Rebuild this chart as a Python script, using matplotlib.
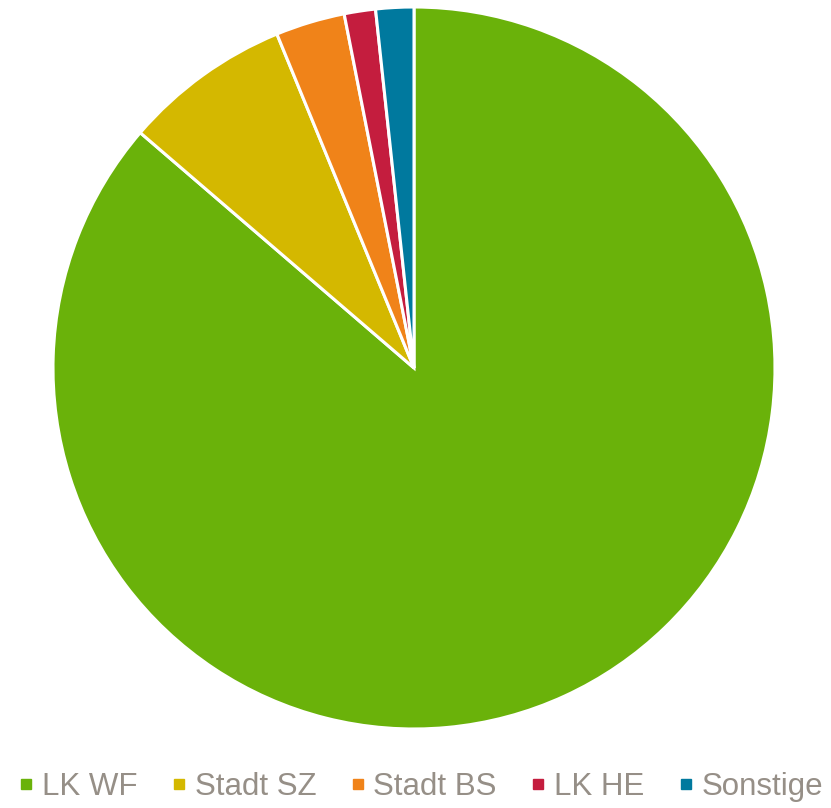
import matplotlib
matplotlib.use("Agg")
import matplotlib.pyplot as plt
from matplotlib.lines import Line2D

categories = ["LK WF", "Stadt SZ", "Stadt BS", "LK HE", "Sonstige"]
values = [86.3, 7.5, 3.1, 1.4, 1.7]
colors = ["#6AB20A", "#D4B800", "#F08319", "#C41D3E", "#00799E"]
text_color = "#968F87"

W, H = 831, 808
fig = plt.figure(figsize=(W / 100, H / 100), dpi=100)
cx, cy, r = 414, 368, 361
ax = fig.add_axes([(cx - r) / W, (H - cy - r) / H, 2 * r / W, 2 * r / H])
ax.pie(values, colors=colors, startangle=90, counterclock=False, radius=1,
       wedgeprops=dict(edgecolor="white", linewidth=2.2))
ax.set_xlim(-1, 1)
ax.set_ylim(-1, 1)
ax.set_aspect("equal")
ax.axis("off")

handles = [Line2D([], [], linestyle="none", marker="s", markersize=7.5,
                  markerfacecolor=c, markeredgecolor=c) for c in colors]
leg = fig.legend(handles, categories, loc="center", ncol=5,
                 bbox_to_anchor=(421 / W, 1 - 787 / H), frameon=False,
                 handlelength=0.45, handletextpad=0.28,
                 columnspacing=1.1, borderaxespad=0, borderpad=0,
                 prop=dict(family="Liberation Sans", size=22.5))
for t in leg.get_texts():
    t.set_color(text_color)

fig.savefig("out.png", dpi=100, facecolor="white")
